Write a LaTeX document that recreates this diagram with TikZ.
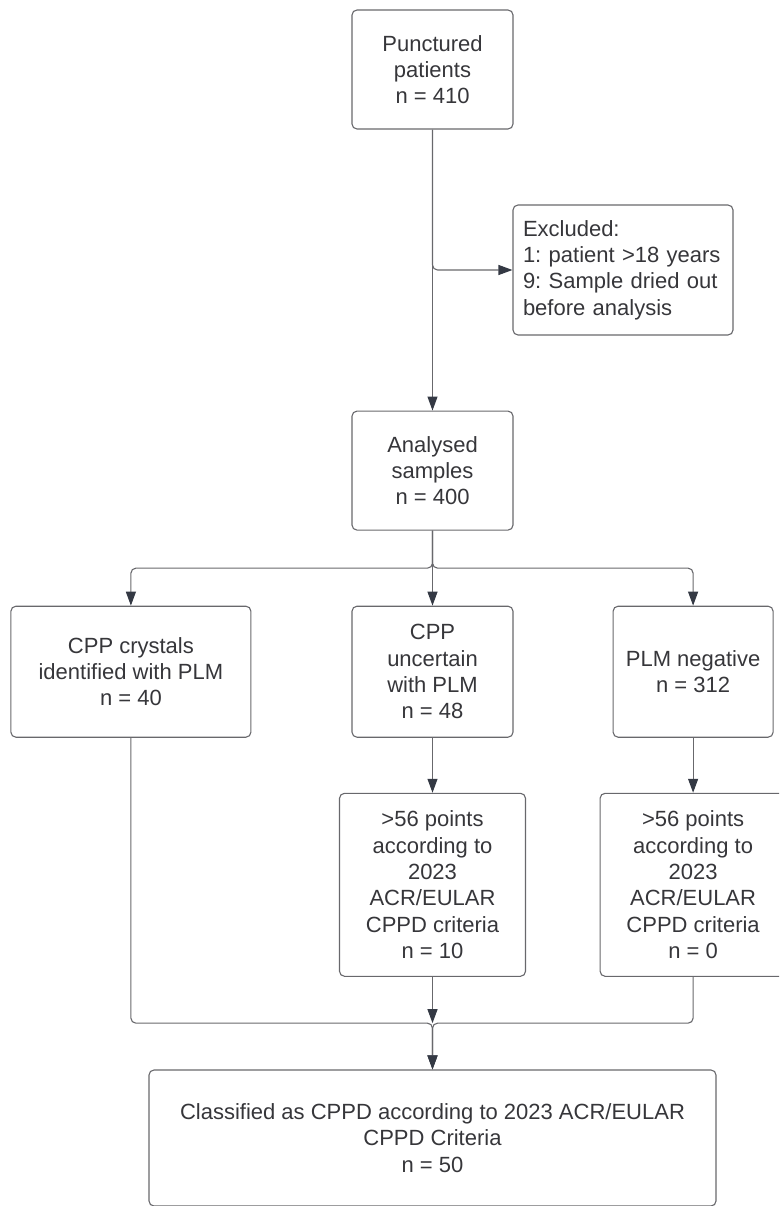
\documentclass[tikz,border=0pt]{standalone}
\usepackage{fontspec}
\setmainfont{Liberation Sans}
\usetikzlibrary{arrows.meta,positioning,calc}
\definecolor{fGray}{RGB}{104,104,108}
\definecolor{fDark}{RGB}{52,57,68}
\definecolor{fText}{RGB}{54,54,58}
\frenchspacing

\begin{document}
\begin{tikzpicture}[
    x=1pt, y=-1pt,
    box/.style ={rectangle, rounded corners=5pt, draw=fGray, line width=1.1pt,
                 align=center, text=fText, inner sep=0pt,
                 font=\fontsize{22}{26.3}\selectfont},
    arr/.style ={-{Triangle[length=14pt,width=10pt,color=fDark]},
                 draw=fGray, line width=1.1pt, rounded corners=5pt}
]
\clip (0,0) rectangle (779,1206);

\node[box, minimum width=161pt, minimum height=119pt] (punct) at (432.5,69.5) {Punctured\\patients\\n = 410};
\node[box, minimum width=161pt, minimum height=119pt, below=281pt of punct] (anal) {Analysed\\samples\\n = 400};
\node[box, align=left, text width=200pt, inner xsep=10pt, minimum height=130pt] (excl) at (623,270) {Excluded:\\1: patient >18 years\\9: Sample dried out\\before analysis};

\node[box, minimum width=161pt, minimum height=131pt, below=75pt of anal] (unc) {CPP\\uncertain\\with PLM\\n = 48};
\node[box, minimum width=240pt, minimum height=131pt, left=100pt of unc] (cryst) {CPP crystals\\identified with PLM\\n = 40};
\node[box, minimum width=160pt, minimum height=131pt, right=99pt of unc] (neg) {PLM negative\\n = 312};

\node[box, minimum width=186pt, minimum height=183pt, below=55pt of unc] (uncpts) {>56 points\\according to\\2023\\ACR/EULAR\\CPPD criteria\\n = 10};
\node[box, minimum width=186pt, minimum height=183pt, below=55pt of neg] (negpts) {>56 points\\according to\\2023\\ACR/EULAR\\CPPD criteria\\n = 0};

\node[box, minimum width=567pt, minimum height=136pt] (final) at (432.5,1138) {Classified as CPPD according to 2023 ACR/EULAR\\CPPD Criteria\\n = 50};

\coordinate (split) at ($(anal.south)!.5!(unc.north)$);
\coordinate (join) at ($(uncpts.south)!.5!(final.north)$);

\draw[arr] (punct) -- (anal);
\draw[arr] (punct.south) |- (excl.west);
\draw[arr] (anal.south) -- (split) -| (cryst.north);
\draw[arr] (anal.south) -- (split) -| (neg.north);
\draw[arr] (anal) -- (unc);
\draw[arr] (unc) -- (uncpts);
\draw[arr] (neg) -- (negpts);
\draw[arr] (uncpts) -- (join);
\draw[arr] (cryst.south) |- (join) -- (final.north);
\draw[arr] (negpts.south) |- (join) -- (final.north);
\end{tikzpicture}
\end{document}
